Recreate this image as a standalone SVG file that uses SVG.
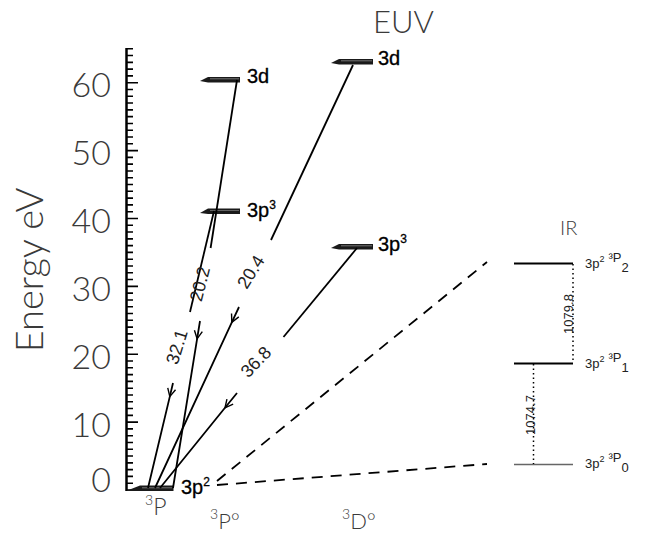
<svg xmlns="http://www.w3.org/2000/svg" width="665" height="552" viewBox="0 0 665 552">
<style>
.lbl{font-family:Lato,"Open Sans","Liberation Sans",sans-serif;font-weight:300;fill:#3a3a3a}
.lev{font-family:"Liberation Sans",Arial,sans-serif;fill:#000;font-size:20px;stroke:#000;stroke-width:0.3}
.wl{font-family:"Liberation Sans",Arial,sans-serif;fill:#222;font-size:18px}
.ir{font-family:"Liberation Sans",Arial,sans-serif;fill:#222;font-size:13px}
.tr{stroke:#000;stroke-width:1.8;fill:none}
.dash{stroke:#000;stroke-width:1.8;fill:none;stroke-dasharray:11 8}
.dot{stroke:#000;stroke-width:1.5;fill:none;stroke-dasharray:1.5 3}
.bar{fill:#1a1a1a}
.gap{stroke:#fff;stroke-width:0.5;opacity:0.8}
</style>
<defs>
<marker id="ah" markerUnits="userSpaceOnUse" markerWidth="12" markerHeight="12" viewBox="-10 -6 12 12" refX="0" refY="0" orient="auto">
<path d="M-8,-4 L0,0 L-8,4" fill="none" stroke="#000" stroke-width="1.4"/>
</marker>
</defs>
<rect width="665" height="552" fill="#fff"/>

<g id="axis">
<line x1="126.5" y1="48" x2="126.5" y2="491" stroke="#000" stroke-width="2.5"/>
<path stroke="#000" stroke-width="1.6" d="M126,490h12M126,483.21h7M126,476.42h7M126,469.64h7M126,462.85h7M126,456.06h7M126,449.27h7M126,442.48h7M126,435.70h7M126,428.91h7M126,422.12h12M126,415.33h7M126,408.54h7M126,401.75h7M126,394.96h7M126,388.18h7M126,381.39h7M126,374.60h7M126,367.81h7M126,361.02h7M126,354.23h12M126,347.45h7M126,340.66h7M126,333.87h7M126,327.08h7M126,320.29h7M126,313.50h7M126,306.72h7M126,299.93h7M126,293.14h7M126,286.35h12M126,279.56h7M126,272.77h7M126,265.99h7M126,259.20h7M126,252.41h7M126,245.62h7M126,238.83h7M126,232.04h7M126,225.26h7M126,218.47h12M126,211.68h7M126,204.89h7M126,198.10h7M126,191.31h7M126,184.53h7M126,177.74h7M126,170.95h7M126,164.16h7M126,157.37h7M126,150.58h12M126,143.79h7M126,137.01h7M126,130.22h7M126,123.43h7M126,116.64h7M126,109.85h7M126,103.06h7M126,96.28h7M126,89.49h7M126,82.70h12M126,75.91h7M126,69.12h7M126,62.33h7M126,55.55h7M126,48.76h7"/>
<g class="lbl" font-size="34" text-anchor="end">
<text x="111" y="97">60</text>
<text x="111" y="165">50</text>
<text x="111" y="233">40</text>
<text x="111" y="301">30</text>
<text x="111" y="369">20</text>
<text x="111" y="437">10</text>
<text x="111" y="492">0</text>
</g>
<text class="lbl" font-size="38" text-anchor="middle" transform="translate(43,270) rotate(-90)">Energy eV</text>
</g>

<g id="headers" class="lbl">
<text x="373" y="33" font-size="31">EUV</text>
<text x="560" y="235" font-size="20">IR</text>
<text x="145" y="515" font-size="23"><tspan font-size="14" dy="-10">3</tspan><tspan dy="10">P</tspan></text>
<text x="210" y="529" font-size="22"><tspan font-size="14" dy="-10">3</tspan><tspan dy="10">P°</tspan></text>
<text x="342" y="529" font-size="22"><tspan font-size="14" dy="-10">3</tspan><tspan dy="10">D°</tspan></text>
</g>

<g id="ground">
<polygon class="bar" points="126,491 140,485.5 173.5,485.5 173.5,491"/>
<line class="gap" x1="142" y1="487.8" x2="172" y2="487.8"/>
<text class="lev" x="181" y="494">3p<tspan font-size="12" dy="-8">2</tspan></text>
</g>

<g id="lvl-3d-P">
<polygon class="bar" points="200,81 208,77 240,77 240,82.5 208,82.5"/>
<line class="gap" x1="210" y1="78.8" x2="239" y2="78.8"/>
<text class="lev" x="247" y="83">3d</text>
</g>
<g id="lvl-3p3-P">
<polygon class="bar" points="200,213 208,208.5 240,208.5 240,214 208,214"/>
<line class="gap" x1="210" y1="210.3" x2="239" y2="210.3"/>
<text class="lev" x="247" y="217">3p<tspan font-size="12" dy="-8">3</tspan></text>
</g>
<g id="lvl-3d-D">
<polygon class="bar" points="331,63 339,59 373,59 373,64.5 339,64.5"/>
<line class="gap" x1="341" y1="60.8" x2="372" y2="60.8"/>
<text class="lev" x="378" y="65">3d</text>
</g>
<g id="lvl-3p3-D">
<polygon class="bar" points="331,248 339,244 373,244 373,249.5 339,249.5"/>
<line class="gap" x1="341" y1="245.8" x2="372" y2="245.8"/>
<text class="lev" x="378" y="251">3p<tspan font-size="12" dy="-8">3</tspan></text>
</g>

<g id="ir-p2">
<line x1="514" y1="263.5" x2="573" y2="263.5" stroke="#000" stroke-width="2"/>
<text class="ir" x="585" y="268">3p<tspan font-size="9" dy="-6">2</tspan><tspan dx="4">³P</tspan><tspan dy="10">2</tspan></text>
</g>
<g id="ir-p1">
<line x1="514" y1="363.5" x2="573" y2="363.5" stroke="#000" stroke-width="2"/>
<text class="ir" x="585" y="368">3p<tspan font-size="9" dy="-6">2</tspan><tspan dx="4">³P</tspan><tspan dy="10">1</tspan></text>
</g>
<g id="ir-p0">
<line x1="514" y1="464.5" x2="573" y2="464.5" stroke="#666" stroke-width="1.6"/>
<text class="ir" x="585" y="468">3p<tspan font-size="9" dy="-6">2</tspan><tspan dx="4">³P</tspan><tspan dy="10">0</tspan></text>
</g>

<g id="connectors">
<path class="tr" d="M214,211 L190,312"/>
<path class="tr" marker-mid="url(#ah)" d="M173,383 L169.8,396.6 L148,488"/>
<path class="tr" d="M237,80 L210.6,248"/>
<path class="tr" marker-mid="url(#ah)" d="M200,321 L197.1,338.8 L173,488"/>
<path class="tr" d="M353,65 L271,240"/>
<path class="tr" marker-mid="url(#ah)" d="M239,307 L231.8,322.4 L155,488"/>
<path class="tr" d="M357,248 L283.5,337"/>
<path class="tr" marker-mid="url(#ah)" d="M237,393 L225,407.8 L160,488"/>
<path class="dash" d="M217,481 L487,262"/>
<path class="dash" d="M217,485 L487,464"/>
<path class="dot" d="M573,264 V363"/>
<path class="dot" d="M533.5,364 V464"/>
</g>

<g id="wl-labels">
<text class="wl" text-anchor="middle" dominant-baseline="central" transform="translate(200,284) rotate(-76)">20.2</text>
<text class="wl" text-anchor="middle" dominant-baseline="central" transform="translate(177,347) rotate(-73)">32.1</text>
<text class="wl" text-anchor="middle" dominant-baseline="central" transform="translate(251,272) rotate(-58)">20.4</text>
<text class="wl" text-anchor="middle" dominant-baseline="central" transform="translate(256,362) rotate(-46)">36.8</text>
<text class="ir" text-anchor="middle" dominant-baseline="central" transform="translate(568,314) rotate(-90)">1079.8</text>
<text class="ir" text-anchor="middle" dominant-baseline="central" transform="translate(530,415) rotate(-90)">1074.7</text>
</g>
</svg>
